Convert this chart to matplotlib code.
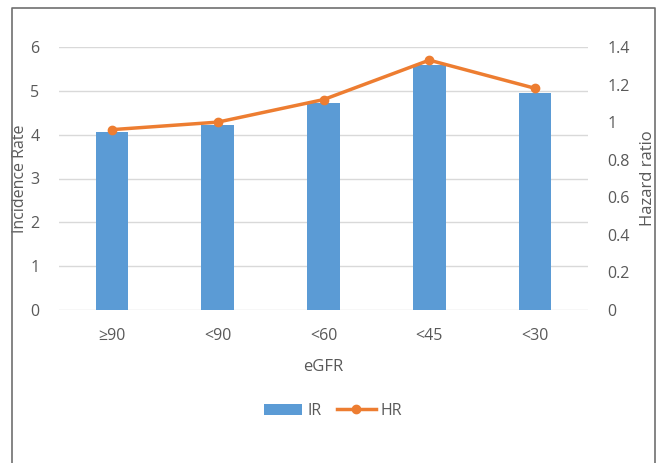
import matplotlib
matplotlib.use("Agg")
import matplotlib.pyplot as plt
from matplotlib.lines import Line2D
from matplotlib.patches import Patch

categories = ["≥90", "<90", "<60", "<45", "<30"]
ir_values = [4.07, 4.21, 4.72, 5.58, 4.96]
hr_values = [0.96, 1.00, 1.12, 1.33, 1.18]
left_ticks = [0, 1, 2, 3, 4, 5, 6]
right_ticks = [0, 0.2, 0.4, 0.6, 0.8, 1.0, 1.2, 1.4]
right_labels = ["0", "0.2", "0.4", "0.6", "0.8", "1", "1.2", "1.4"]

blue = "#5B9BD5"
orange = "#ED7D31"
txt = "#595959"
grid = "#D9D9D9"

plt.rcParams['font.family'] = ['Open Sans', 'DejaVu Sans']

fig = plt.figure(figsize=(6.61, 4.63), dpi=100)
# outer frame: left, top, right edges (no bottom edge visible)
fx = [12/661, 12/661, 655/661, 655/661]
fy = [0.0, 1 - 8/463, 1 - 8/463, 0.0]
fig.add_artist(Line2D(fx, fy, transform=fig.transFigure, color="#6F6F6F", linewidth=1.2))

ax = fig.add_axes([59/661, 1 - 310/463, (588-59)/661, (310-47)/463])
x = list(range(len(categories)))
ax.bar(x, ir_values, width=0.31, color=blue, zorder=2)
ax.set_xlim(-0.5, len(categories) - 0.5)
ax.set_ylim(0, 6)
ax.set_yticks(left_ticks)
ax.set_yticklabels([str(t) for t in left_ticks])
ax.yaxis.grid(True, color=grid, linewidth=1.0, zorder=0)
ax.set_axisbelow(True)
for s in ax.spines.values():
    s.set_visible(False)
ax.tick_params(axis='both', length=0, colors=txt, labelsize=11.5)
ax.tick_params(axis='y', pad=14)
ax.tick_params(axis='x', pad=13)
ax.set_xticks(x)
ax.set_xticklabels(categories)
ax.set_xlabel("eGFR", color=txt, fontsize=12, labelpad=11)
ax.set_ylabel("Incidence Rate", color=txt, fontsize=11.5)
ax.yaxis.set_label_coords(-0.059, 0.5)

ax2 = ax.twinx()
ax2.plot(x, hr_values, color=orange, linewidth=2.5, marker='o', markersize=6, zorder=3)
ax2.set_ylim(0, 1.4)
ax2.set_yticks(right_ticks)
ax2.set_yticklabels(right_labels)
for s in ax2.spines.values():
    s.set_visible(False)
ax2.tick_params(axis='y', length=0, colors=txt, labelsize=11.5, pad=14)
ax2.set_ylabel("Hazard ratio", color=txt, fontsize=12, labelpad=7)

handles = [Patch(facecolor=blue, label="IR"),
           Line2D([0], [0], color=orange, linewidth=2.5, marker='o', markersize=6, label="HR")]
fig.legend(handles=handles, loc='center', bbox_to_anchor=(333/661, 1 - 411/463),
           ncol=2, frameon=False, fontsize=11.5, labelcolor=txt,
           handlelength=2.4, handleheight=0.7, columnspacing=1.0, handletextpad=0.3)

fig.savefig("out.png", dpi=100)
